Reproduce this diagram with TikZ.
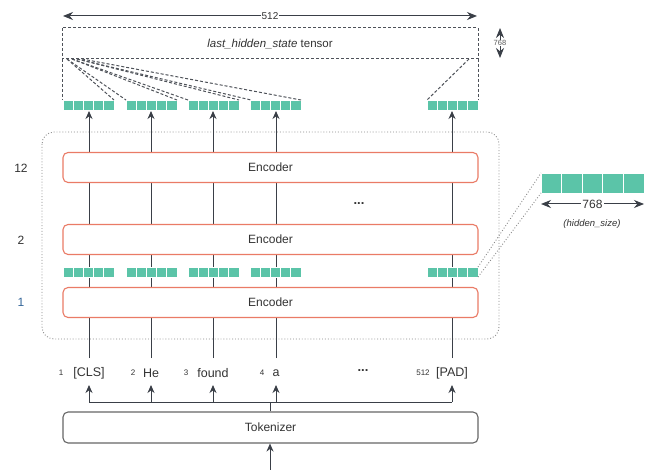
\documentclass[tikz,border=0pt]{standalone}
\usepackage{fontspec}
\setmainfont{Liberation Sans}
\usetikzlibrary{arrows.meta}
\definecolor{teal1}{HTML}{5BC4A8}
\definecolor{encred}{HTML}{EA7B66}
\definecolor{txt}{HTML}{333333}
\definecolor{ln}{HTML}{3A3F47}
\definecolor{boxgray}{HTML}{666666}
\definecolor{contgray}{HTML}{8A8A8A}
\definecolor{layblue}{HTML}{35679A}
\tikzset{
  encbox/.style={draw=encred,line width=1.1pt,rounded corners=5pt,fill=white,minimum width=415pt,minimum height=30pt,text=txt,font=\fontsize{12}{14}\selectfont},
  tokbox/.style={draw=boxgray,line width=1.1pt,rounded corners=5pt,fill=white,minimum width=415pt,minimum height=31pt,text=txt,font=\fontsize{12}{14}\selectfont},
  arr/.style={draw=ln,line width=1pt,-{Stealth[length=8pt,width=7pt]}},
  plainln/.style={draw=ln,line width=1pt},
  dimarr/.style={draw=ln,line width=1pt,{Stealth[length=10pt,width=8pt]}-{Stealth[length=10pt,width=8pt]}},
  toklbl/.style={text=txt,font=\fontsize{12.5}{14}\selectfont,inner sep=1pt},
  idxlbl/.style={text=txt,font=\fontsize{8}{9}\selectfont,inner sep=1pt},
  laylbl/.style={text=txt,font=\fontsize{12}{14}\selectfont},
  tdash/.style={draw=ln!90,line width=1pt,dash pattern=on 3pt off 2pt},
  cell/.style={fill=teal1,draw=white,line width=0.8pt},
}
\newcommand{\sqgroup}[4]{% x y w h (top-left, cell width, height)
  \foreach \k in {0,...,4}{
    \path[cell] ({#1+\k*#3},#2) rectangle ({#1+(\k+1)*#3},{#2+#4});
  }
}
\begin{document}
\begin{tikzpicture}[x=1pt,y=-1pt]
\useasboundingbox (0,0) rectangle (672,470);
\fill[white] (0,0) rectangle (672,470);

% container
\draw[contgray,line width=0.9pt,dotted,rounded corners=12pt] (42,132) rectangle (499,339);

% coordinates
\foreach \n/\x in {a/89,b/151,c/213,d/276,e/452}{
  \coordinate (lo\n) at (\x,358);
  \coordinate (hi\n) at (\x,111);
  \coordinate (bus\n) at (\x,402);
  \coordinate (tk\n) at (\x,385);
}
% vertical lines through encoders
\foreach \n in {a,b,c,d,e}{
  \draw[arr] (lo\n) -- (hi\n);
}

% encoders
\node[encbox] (enc12) at (270.5,167.5) {Encoder};
\node[encbox] (enc2) at (270.5,239.5) {Encoder};
\node[encbox] (enc1) at (270.5,302.5) {Encoder};

% layer labels
\node[laylbl] (l12) at (21,168) {12};
\node[laylbl] (l2) at (21,240) {2};
\node[laylbl,text=layblue] (l1) at (21,302) {1};
\node[text=txt,font=\fontsize{13}{14}\selectfont\bfseries] (dots1) at (359,204) {...};

% middle square row
\sqgroup{63}{267}{10.2}{10}
\sqgroup{126}{267}{10.2}{10}
\sqgroup{188}{267}{10.2}{10}
\sqgroup{250}{267}{10.2}{10}
\sqgroup{427}{267}{10.2}{10}
% big hidden-size squares
\sqgroup{541}{173}{20.6}{20}
\coordinate (ms1) at (478,267);
\coordinate (ms2) at (478,277);
\coordinate (bs1) at (541,173);
\coordinate (bs2) at (541,193);
\draw[contgray,line width=0.9pt,dotted] (ms1) -- (bs1);
\draw[contgray,line width=0.9pt,dotted] (ms2) -- (bs2);
\coordinate (h1) at (541,204);
\coordinate (h2) at (644,204);
\draw[dimarr] (h1) -- (h2) node[midway,fill=white,inner sep=1pt,text=txt,font=\fontsize{12}{14}\selectfont] (h768) {768};
\node[text=txt,font=\fontsize{9.5}{11}\selectfont\itshape] (hs) at (592,224) {(hidden\_size)};

% top square row
\sqgroup{63}{100.5}{10.2}{10}
\sqgroup{126}{100.5}{10.2}{10}
\sqgroup{188}{100.5}{10.2}{10}
\sqgroup{250}{100.5}{10.2}{10}
\sqgroup{427}{100.5}{10.2}{10}

% tensor
\draw[tdash] (62,28) rectangle (478,59);
\node[text=txt,font=\fontsize{11.5}{13}\selectfont] (tens) at (270,44) {\textit{last\_hidden\_state} tensor};
\draw[tdash] (62,59) -- (62,100);
\draw[tdash] (478,59) -- (478,100);
\draw[tdash] (67,59) -- (114,100);
\draw[tdash] (67,59) -- (126,100);
\draw[tdash] (72,59) -- (177,100);
\draw[tdash] (72,59) -- (188,100);
\draw[tdash] (77,59) -- (239,100);
\draw[tdash] (77,59) -- (251,100);
\draw[tdash] (82,59) -- (301,100);
\draw[tdash] (469,59) -- (427,100);

% 512 arrow
\coordinate (w1) at (63,16);
\coordinate (w2) at (477,16);
\draw[dimarr] (w1) -- (w2) node[midway,fill=white,inner sep=1pt,text=txt,font=\fontsize{10}{12}\selectfont] (w512) {512};
% 768 vertical
\coordinate (v1) at (500,28);
\coordinate (v2) at (500,58);
\draw[dimarr] (v1) -- (v2);
\node[fill=white,inner sep=0.5pt,text=txt!80,font=\fontsize{7.5}{8}\selectfont] (v768) at (500,43) {768};

% token labels
\node[toklbl] (ta) at (89,373) {[CLS]};
\node[toklbl] (tb) at (151,373) {He};
\node[toklbl] (tc) at (213,373) {found};
\node[toklbl] (td) at (276,373) {a};
\node[toklbl] (te) at (452,373) {[PAD]};
\node[idxlbl] (ia) at (61,373) {1};
\node[idxlbl] (ib) at (133,373) {2};
\node[idxlbl] (ic) at (186,373) {3};
\node[idxlbl] (id) at (262,373) {4};
\node[idxlbl] (ie) at (423,373) {512};
\node[text=txt,font=\fontsize{13}{14}\selectfont\bfseries] (dots2) at (363,371) {...};

% tokenizer
\node[tokbox] (tok) at (270.5,427.5) {Tokenizer};
\coordinate (bus) at (270,402);
\draw[plainln] (tok.north -| bus) -- (bus);
\draw[plainln] (busa) -- (buse);
\foreach \n in {a,b,c,d,e}{
  \draw[arr] (bus\n) -- (tk\n);
}
\coordinate (inp) at (270,472);
\draw[arr] (inp) -- (tok.south -| inp);
\end{tikzpicture}
\end{document}
